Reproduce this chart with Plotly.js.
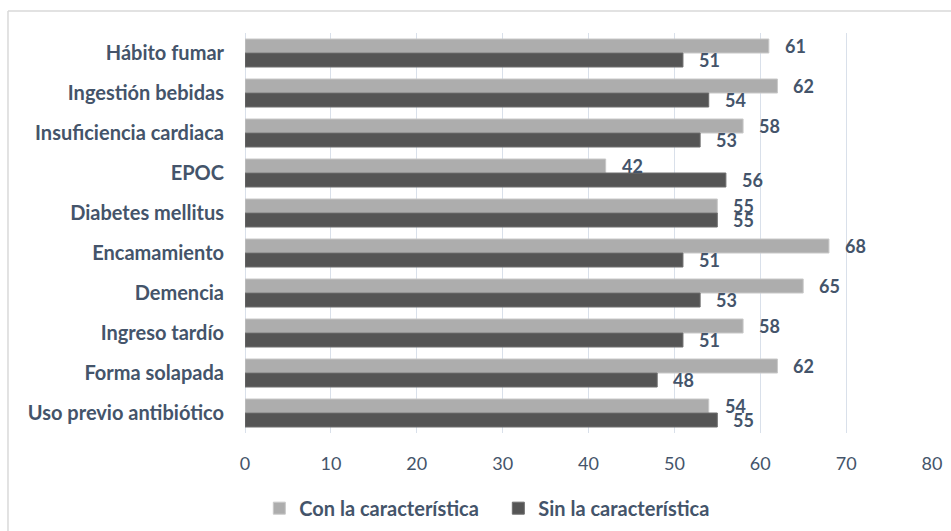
<!DOCTYPE html>
<html><head><meta charset="utf-8">
<script src="https://cdn.plot.ly/plotly-3.0.1.min.js"></script>
<style>html,body{margin:0;padding:0;background:#fff}</style>
</head><body>
<div id="chart" style="width:951px;height:531px"></div>
<script>
const categories = ["Hábito fumar","Ingestión bebidas","Insuficiencia cardiaca","EPOC","Diabetes mellitus","Encamamiento","Demencia","Ingreso tardío","Forma solapada","Uso previo antibiótico"];
const conValues = [61,62,58,42,55,68,65,58,62,54];
const sinValues = [51,54,53,56,55,51,53,51,48,55];
const seriesNames = ["Con la característica","Sin la característica"];
const xTicks = [0,10,20,30,40,50,60,70,80];

const labelColor = "#44546A";
const fontFam = "Lato, Liberation Sans, sans-serif";

const traces = [
  {type:"bar", orientation:"h", name:seriesNames[0], y:categories, x:conValues,
   marker:{color:"#ADADAD", line:{color:"#C8C8C8", width:1}}, hoverinfo:"x"},
  {type:"bar", orientation:"h", name:seriesNames[1], y:categories, x:sinValues,
   marker:{color:"#555555", line:{color:"#6E6E6E", width:1}}, hoverinfo:"x"}
];

const annotations = [];
[conValues, sinValues].forEach((vals, si) => {
  vals.forEach((v, i) => {
    annotations.push({x:v, y:categories[i], xref:"x", yref:"y", text:String(v),
      showarrow:false, xanchor:"left", xshift:14, yshift: si===0 ? 7 : -7,
      font:{family:fontFam, size:18, color:labelColor, weight:700}});
  });
});

const layout = {
  width:951, height:531,
  margin:{l:245, r:19, t:33, b:98},
  paper_bgcolor:"#fff", plot_bgcolor:"#fff",
  barmode:"group", bargap:0.3, bargroupgap:0,
  showlegend:true,
  legend:{orientation:"h", xref:"container", yref:"container", x:0.524, y:0.043,
    xanchor:"center", yanchor:"middle", traceorder:"normal", entrywidth:194,
    font:{family:fontFam, size:20, color:labelColor, weight:700}},
  xaxis:{range:[0,80], tickvals:xTicks, showgrid:true, gridcolor:"#D9E0EA", gridwidth:1,
    zeroline:true, zerolinecolor:"#D9E0EA", showline:false, ticks:"",
    ticklabelstandoff:18,
    tickfont:{family:fontFam, size:18, color:labelColor}},
  yaxis:{autorange:"reversed", showgrid:false, zeroline:false, ticks:"", ticklabelstandoff:20,
    tickfont:{family:fontFam, size:20, color:labelColor, weight:700}},
  annotations:annotations,
  shapes:[
    {type:"line", xref:"paper", yref:"paper", x0:-0.345, x1:1.03, y0:1.055, y1:1.055, line:{color:"#D9D9D9", width:1.5}},
    {type:"line", xref:"paper", yref:"paper", x0:-0.345, x1:-0.345, y0:1.055, y1:-0.3, line:{color:"#D9D9D9", width:1.5}}
  ]
};

Plotly.newPlot("chart", traces, layout, {displayModeBar:false, staticPlot:true});
</script>
</body></html>
